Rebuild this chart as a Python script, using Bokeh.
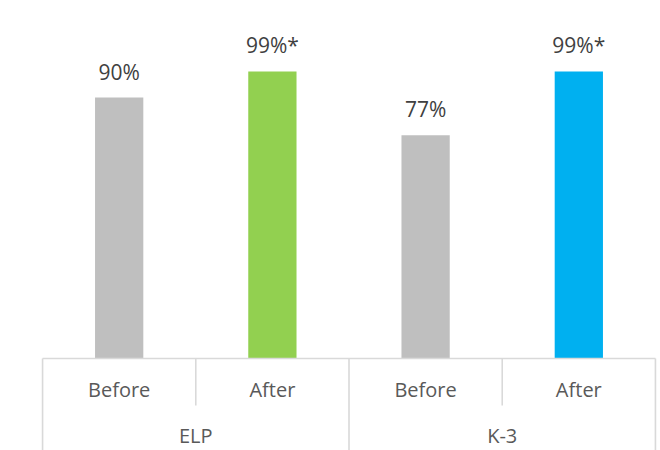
from bokeh.plotting import figure
from bokeh.models import ColumnDataSource, FactorRange, Range1d
from bokeh.core.properties import value
from bokeh.embed import file_html
from bokeh.resources import INLINE

# ---- data ----
groups = ["ELP", "ELP", "K-3", "K-3"]
subgroups = ["Before", "After", "Before", "After"]
values = [90, 99, 77, 99]
notes = ["", "*", "", "*"]
colors = ["#BFBFBF", "#92D050", "#BFBFBF", "#00B0F0"]
group_names = ["ELP", "K-3"]

factors = list(zip(groups, subgroups))
labels = [f"{v}%{n}" for v, n in zip(values, notes)]

FONT = value("Open Sans")
LINE = "#D9D9D9"

Y0, Y1 = -31.72, 123.45

x_range = FactorRange(factors=factors, factor_padding=0, group_padding=0,
                      range_padding=0.01, range_padding_units="percent")
y_range = Range1d(Y0, Y1)

p = figure(width=660, height=450, x_range=x_range, y_range=y_range,
           output_backend="svg", toolbar_location=None,
           x_axis_location=None, y_axis_location=None,
           min_border_left=39, min_border_right=2,
           min_border_top=0, min_border_bottom=0)
p.outline_line_color = None
p.grid.grid_line_color = None
p.background_fill_color = "white"
p.border_fill_color = "white"

src = ColumnDataSource(dict(x=factors, top=values, color=colors, label=labels,
                            sub=subgroups))

p.vbar(x="x", top="top", bottom=0, width=0.315, fill_color="color",
       line_color=None, source=src)

# value labels
p.text(x="x", y="top", text="label", source=src, text_font=FONT,
       text_font_size="21px", text_color="#404040", text_align="center",
       text_baseline="alphabetic", y_offset=-26)

# category axis drawn Excel-style
edges_x = [f + (-0.5,) for f in factors] + [factors[-1] + (0.5,)]
long_idx = [0, 2, 4]
short_idx = [1, 3]

p.segment(x0=[edges_x[0]], x1=[edges_x[-1]], y0=[0], y1=[0],
          line_color=LINE, line_width=1.6)
p.segment(x0=[edges_x[i] for i in long_idx], x1=[edges_x[i] for i in long_idx],
          y0=[0] * len(long_idx), y1=[Y0] * len(long_idx),
          line_color=LINE, line_width=1.6)
p.segment(x0=[edges_x[i] for i in short_idx], x1=[edges_x[i] for i in short_idx],
          y0=[0] * len(short_idx), y1=[-16.2] * len(short_idx),
          line_color=LINE, line_width=1.6)

p.text(x="x", y=0, text="sub", source=src, text_font=FONT,
       text_font_size="20px", text_color="#595959", text_align="center",
       text_baseline="alphabetic", y_offset=31)

gsrc = ColumnDataSource(dict(x=group_names, label=group_names))
p.text(x="x", y=0, text="label", source=gsrc, text_font=FONT,
       text_font_size="20px", text_color="#595959", text_align="center",
       text_baseline="alphabetic", y_offset=77)

open("out.html", "w").write(file_html(p, INLINE))
